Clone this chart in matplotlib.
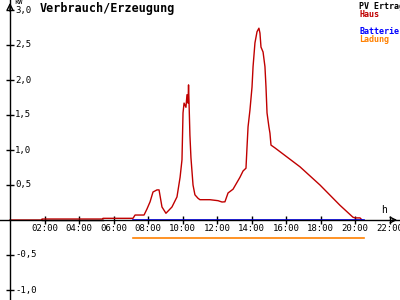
import matplotlib
matplotlib.use("Agg")
import matplotlib.pyplot as plt

# ---- data ----
haus_h = [0.0, 1.855, 1.855, 5.39, 5.39, 7.13, 7.25, 7.77, 7.94, 8.12, 8.29, 8.52, 8.64, 8.81, 9.04,
          9.39, 9.68, 9.86, 9.97, 10.03, 10.09, 10.20, 10.26, 10.32, 10.35, 10.38, 10.43, 10.49,
          10.61, 10.72, 10.90, 11.01, 11.59, 12.06, 12.29, 12.46, 12.64, 12.93, 13.33, 13.51, 13.68,
          13.74, 13.80, 13.91, 14.03, 14.09, 14.20, 14.32, 14.43, 14.49, 14.55, 14.67, 14.78, 14.84,
          14.90, 15.01, 15.07, 15.13, 15.36, 16.81, 17.97, 19.13, 19.88, 20.0, 20.29, 20.41]
haus_kw = [0.0, 0.0, 0.014, 0.014, 0.024, 0.024, 0.071, 0.071, 0.157, 0.26, 0.40, 0.43, 0.43, 0.186, 0.096,
           0.186, 0.33, 0.61, 0.86, 1.53, 1.67, 1.61, 1.79, 1.67, 1.93, 1.67, 1.21, 0.89,
           0.50, 0.36, 0.31, 0.29, 0.29, 0.276, 0.257, 0.26, 0.386, 0.44, 0.61, 0.70, 0.74,
           1.04, 1.33, 1.57, 1.90, 2.19, 2.53, 2.69, 2.74, 2.67, 2.47, 2.40, 2.19, 1.90,
           1.53, 1.33, 1.24, 1.07, 1.03, 0.76, 0.50, 0.21, 0.04, 0.03, 0.03, 0.0]

pv_h = [1.855, 5.39]
pv_kw = [0.007, 0.007]

batt_h = [7.13, 20.52]
batt_kw = [0.0, 0.0]

ladung_h = [7.13, 20.52]
ladung_kw = [-0.257, -0.257]

xticks = [2, 4, 6, 8, 10, 12, 14, 16, 18, 20, 22]
xticklabels = ["02:00", "04:00", "06:00", "08:00", "10:00", "12:00", "14:00",
               "16:00", "18:00", "20:00", "22:00"]
yticks = [-1.0, -0.5, 0.5, 1.0, 1.5, 2.0, 2.5, 3.0]
yticklabels = ["-1,0", "-0,5", "0,5", "1,0", "1,5", "2,0", "2,5", "3,0"]

legend_labels = ["PV Ertrag", "Haus", "Batterie", "Ladung"]
legend_colors = ["#000000", "#c00000", "#0000ff", "#ff8000"]

# ---- figure ----
fig = plt.figure(figsize=(4, 3), dpi=100)
ax = fig.add_axes([0, 0, 1, 1])
ax.set_facecolor("white")
xmin, xmax = -10 / 17.25, 390 / 17.25
ymin, ymax = -80 / 70, 220 / 70
ax.set_xlim(xmin, xmax)
ax.set_ylim(ymin, ymax)

for s in ["top", "right"]:
    ax.spines[s].set_visible(False)
ax.spines["left"].set_position(("data", 0))
ax.spines["bottom"].set_position(("data", 0))
ax.spines["left"].set_linewidth(1)
ax.spines["bottom"].set_linewidth(1)

ax.set_xticks(xticks)
ax.set_yticks(yticks)
ax.tick_params(direction="inout", length=6, width=1, labelbottom=False, labelleft=False)

font = dict(family="DejaVu Sans Mono", fontweight="bold")
tfont = dict(family="DejaVu Sans Mono", fontweight="normal")
for x, lab in zip(xticks, xticklabels):
    ax.text(x, -0.06, lab, ha="center", va="top", fontsize=6.5, **tfont)
for y, lab in zip(yticks, yticklabels):
    ax.text(0.3, y, lab, ha="left", va="center", fontsize=6.5, **tfont)

# arrows
ax.annotate("", xy=(xmax, 0), xytext=(xmax - 0.6, 0),
            arrowprops=dict(arrowstyle="->", lw=1, color="black"), annotation_clip=False)
ax.annotate("", xy=(0, ymax), xytext=(0, ymax - 0.2),
            arrowprops=dict(arrowstyle="->", lw=1, color="black"), annotation_clip=False)

ax.text(0.25, ymax + 0.01, "kW", ha="left", va="top", fontsize=5, **tfont)
ax.text(21.7, 0.07, "h", ha="center", va="bottom", fontsize=7, **tfont)

# series
ax.plot(pv_h, pv_kw, color=legend_colors[0], lw=1)
ax.plot(haus_h, haus_kw, color=legend_colors[1], lw=1)
ax.plot(batt_h, batt_kw, color=legend_colors[2], lw=1.2)
ax.plot(ladung_h, ladung_kw, color=legend_colors[3], lw=1.2)

# title
fig.text(40 / 400, 1 - 2 / 300, "Verbrauch/Erzeugung", ha="left", va="top",
         fontsize=8.5, **font)

# legend texts
leg_y = [2, 10, 27, 35]
for lab, col, yy in zip(legend_labels, legend_colors, leg_y):
    fig.text(359 / 400, 1 - yy / 300, lab, ha="left", va="top", fontsize=6,
             color=col, **font)

fig.savefig("out.png", dpi=100)
